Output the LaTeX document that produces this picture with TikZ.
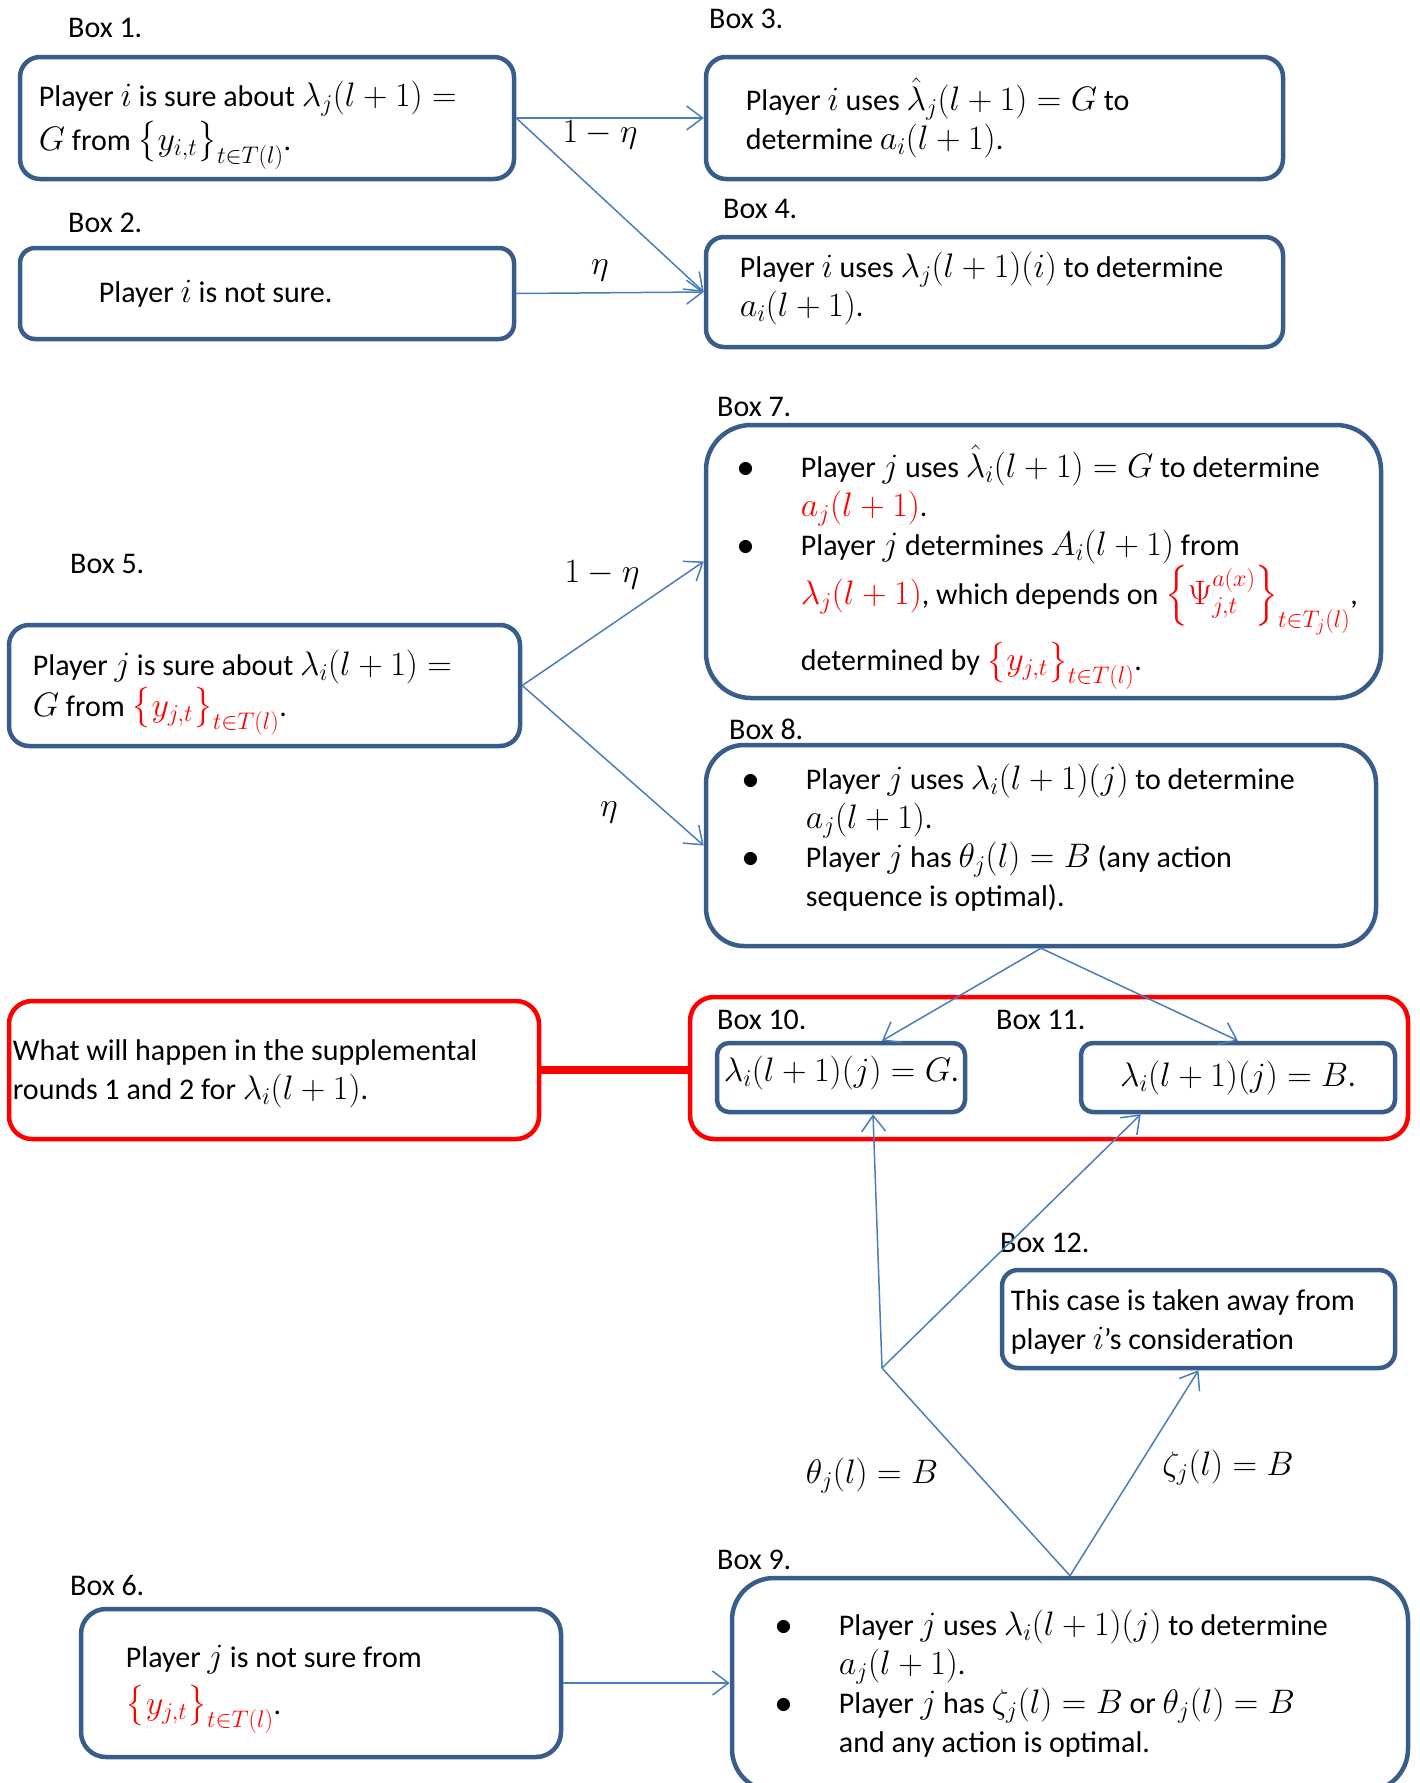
\documentclass[tikz,border=0pt]{standalone}
\usepackage{fix-cm}
\usepackage{amsmath}
\usepackage{amssymb}
\usepackage[no-math]{fontspec}
\setmainfont{Carlito}
\DeclareMathSizes{30}{34}{24}{18}
\usetikzlibrary{arrows.meta,calc}
\definecolor{colbox}{RGB}{56,93,138}
\definecolor{colarrow}{RGB}{74,126,187}
\definecolor{colalert}{RGB}{255,0,0}
\newcommand{\redpart}[1]{\textcolor{colalert}{#1}}
\newcommand{\bul}{\makebox[63pt][l]{$\bullet$}}
\newcommand{\cont}{\hspace*{63pt}}
\tikzset{
	>={Straight Barb[length=16pt,width=24pt]},
	box/.style={draw=colbox, line width=4.5pt},
	alertbox/.style={draw=colalert, line width=4.5pt},
	txt/.style={anchor=west, align=left, inner sep=0pt},
	boxname/.style={anchor=west, inner sep=0pt},
	link/.style={->, draw=colarrow, line width=1.5pt}
}

\begin{document}
\begin{tikzpicture}[x=1pt, y=-1pt, font=\fontsize{30}{39}\selectfont]
	\clip (0,0) rectangle (1419,1783);
	\foreach \n/\x/\y in {1/68/28, 2/68/223, 3/709/19, 4/723/209, 5/70/564, 6/70/1585, 7/717/407, 8/729/729, 9/717/1560, 10/717/1020, 11/996/1020, 12/1000/1243} {
		\node[boxname] (name\n) at (\x,\y) {Box \n.};
	}
	\begin{scope}
		\node[box, rounded corners=20pt, minimum width=494pt, minimum height=122pt] (b1) at (267,118) {};
		\node[box, rounded corners=15pt, minimum width=494pt, minimum height=91pt] (b2) at (267,293.5) {};
		\node[box, rounded corners=20pt, minimum width=577pt, minimum height=122pt] (b3) at (994.5,118) {};
		\node[box, rounded corners=18pt, minimum width=577pt, minimum height=110pt] (b4) at (994.5,292) {};
		\node[txt] (t1) at ($(b1.west)+(21,7)$) {Player $i$ is sure about $\lambda_j(l+1) =$\\[5pt]$G$ from $\big\{y_{i,t}\big\}_{t\in T(l)}$.};
		\node[txt] (t2) at ($(b2.west)+(81,0)$) {Player $i$ is not sure.};
		\node[txt] (t3) at ($(b3.west)+(42,0)$) {Player $i$ uses $\hat{\lambda}_j(l+1) = G$ to\\determine $a_i(l+1)$.};
		\node[txt] (t4) at ($(b4.west)+(36,-4)$) {Player $i$ uses $\lambda_j(l+1)(i)$ to determine\\$a_i(l+1)$.};
		\draw[link] (b1.east) -- (b3.west);
		\draw[link] (b1.east) -- (b4.west);
		\draw[link] (b2.east) -- (b4.west);
		\node (p1) at (600,135) {$1-\eta$};
		\node (p2) at (600,270) {$\eta$};
	\end{scope}
	\begin{scope}
		\node[box, rounded corners=20pt, minimum width=511pt, minimum height=121pt] (b5) at (264.5,685.5) {};
		\node[box, rounded corners=45pt, minimum width=675pt, minimum height=273pt] (b7) at (1043.5,561.5) {};
		\node[box, rounded corners=38pt, minimum width=670pt, minimum height=201pt] (b8) at (1041,845.5) {};
		\node[txt] (t5) at ($(b5.west)+(26,7)$) {Player $j$ is sure about $\lambda_i(l+1) =$\\[2pt]$G$ from \redpart{$\big\{y_{j,t}\big\}_{t\in T(l)}$}.};
		\node[txt] (t7) at ($(b7.west)+(34,6)$) {\bul Player $j$ uses $\hat{\lambda}_i(l+1) = G$ to determine\\
			\cont\redpart{$a_j(l+1)$}.\\
			\bul Player $j$ determines $A_i(l+1)$ from\\
			\cont\redpart{$\lambda_j(l+1)$}, which depends on \redpart{$\Big\{\Psi_{j,t}^{a(x)}\Big\}_{t\in T_j(l)}$},\\[6pt]
			\cont determined by \redpart{$\big\{y_{j,t}\big\}_{t\in T(l)}$}.};
		\node[txt] (t8) at ($(b8.west)+(39,-8)$) {\bul Player $j$ uses $\lambda_i(l+1)(j)$ to determine\\
			\cont$a_j(l+1)$.\\
			\bul Player $j$ has $\theta_j(l) = B$ (any action\\
			\cont sequence is optimal).};
		\draw[link] (b5.east) -- (b7.west);
		\draw[link] (b5.east) -- (b8.west);
		\node (p3) at (602,575) {$1-\eta$};
		\node (p4) at (609,812) {$\eta$};
	\end{scope}
	\begin{scope}
		\node[alertbox, rounded corners=23pt, minimum width=530pt, minimum height=138pt] (supp) at (274,1070) {};
		\node[alertbox, rounded corners=24pt, minimum width=718pt, minimum height=142pt] (grp) at (1049,1068) {};
		\node[box, rounded corners=12pt, minimum width=248pt, minimum height=69pt] (b10) at (841,1077.5) {};
		\node[box, rounded corners=12pt, minimum width=314pt, minimum height=69pt] (b11) at (1238,1077.5) {};
		\node[txt] (tsupp) at ($(supp.west)+(6,4)$) {What will happen in the supplemental\\rounds 1 and 2 for $\lambda_i(l+1)$.};
		\node[txt] (t10) at ($(b10.west)+(9,-5)$) {$\lambda_i(l+1)(j) = G$.};
		\node[inner sep=0pt] (t11) at (b11.center) {$\lambda_i(l+1)(j) = B$.};
		\draw[colalert, line width=8pt] (supp.east) -- (supp.east -| grp.west);
	\end{scope}
	\begin{scope}
		\node[box, rounded corners=16pt, minimum width=393pt, minimum height=98pt] (b12) at (1198.5,1319) {};
		\node[box, rounded corners=42pt, minimum width=676pt, minimum height=213pt] (b9) at (1070,1684.5) {};
		\node[box, rounded corners=25pt, minimum width=480pt, minimum height=148pt] (b6) at (321,1683) {};
		\node[txt] (t12) at ($(b12.west)+(11,3)$) {This case is taken away from\\player $i$'s consideration};
		\node[txt] (t9) at ($(b9.west)+(46,-1)$) {\bul Player $j$ uses $\lambda_i(l+1)(j)$ to determine\\
			\cont$a_j(l+1)$.\\
			\bul Player $j$ has $\zeta_j(l) = B$ or $\theta_j(l) = B$\\
			\cont and any action is optimal.};
		\node[txt] (t6) at ($(b6.west)+(47,6)$) {Player $j$ is not sure from\\[8pt]\redpart{$\big\{y_{j,t}\big\}_{t\in T(l)}$}.};
		\coordinate (jct) at (882,1368);
		\draw[link] (b8.south) -- (b10.north -| jct);
		\draw[link] (b8.south) -- (b11.north);
		\draw[colarrow, line width=1.5pt] (b9.north) -- (jct);
		\draw[link] (jct) -- ($(b10.south)+(32,0)$);
		\draw[link] (jct) -- ($(b11.south west)+(62,0)$);
		\draw[link] (b9.north) -- (b12.south);
		\draw[link] (b6.east) -- (b6.east -| b9.west);
		\node (p5) at (872,1476) {$\theta_j(l) = B$};
		\node (p6) at (1228,1468) {$\zeta_j(l) = B$};
	\end{scope}
\end{tikzpicture}
\end{document}
